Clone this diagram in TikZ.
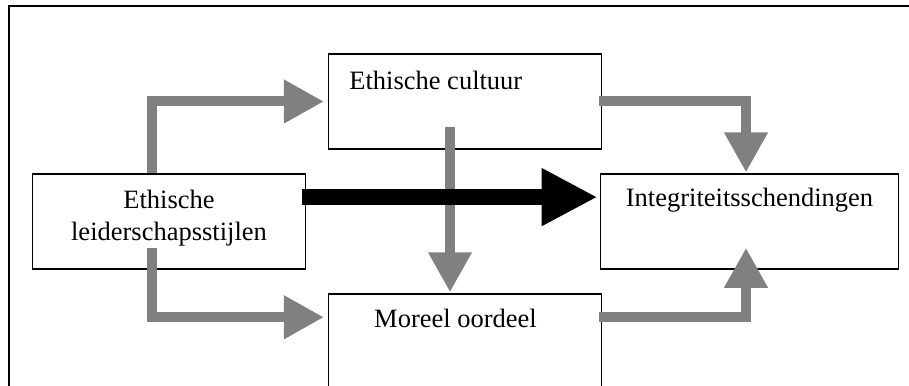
\documentclass[tikz,border=0pt]{standalone}
\usepackage{fontspec}
\setmainfont{Liberation Serif}
\usepackage{tikz}
\usepackage{xcolor}
\usetikzlibrary{arrows.meta, calc}
\tikzset{
    >={Triangle[length=20pt, width=20.5pt]} % Default arrow tip
}
\tikzstyle{box}=[
    draw,
    rectangle,
    line width = 0.75pt,
    inner sep = 0cm
]
\tikzstyle{boxtext}=[
    inner sep = 0cm,
    font = \fontsize{13.25}{15.85}\selectfont
]
\tikzstyle{link}=[
    gray,
    line width = 5pt,
    line join = miter,
    ->
]

\begin{document}
\begin{tikzpicture}[x=0.5pt, y=-0.5pt]
    \clip (0, 0) rectangle (909, 385);
    \draw [line width=1pt] (9, 6) rectangle (940, 420);

    \draw node [box, minimum width=136.7pt, minimum height=47.4pt] (lead) at (169, 221.6) {};
    \draw node [box, minimum width=136.3pt, minimum height=47.5pt] (cult) at (465, 101.5) {};
    \draw node [box, minimum width=148.8pt, minimum height=47.4pt] (integ) at (749.5, 221.6) {};
    \draw node [box, minimum width=136.3pt, minimum height=70pt] (moral) at (465, 364) {};

    \draw node [boxtext, align=center] at ($(lead.center)+(0, -3.6)$) {Ethische\\leiderschapsstijlen};
    \draw node [boxtext, anchor=base west] at ($(cult.north west)+(21, 36)$) {Ethische cultuur};
    \draw node [boxtext, anchor=base] at ($(integ.north)+(0, 33.5)$) {Integriteitsschendingen};
    \draw node [boxtext, anchor=base] at ($(moral.north)+(-9.5, 34)$) {Moreel oordeel};

    \draw [link] ($(lead.north)+(-17, 0)$) |- ($(cult.west)+(-4, 0)$);
    \draw [link] ($(lead.south)+(-17, -22)$) |- ($(moral.north west)+(-4, 24)$);
    \draw [link] ($(cult.south)+(-15, -23)$) -- ($(moral.north)+(-15, -1)$);
    \draw [link] ($(cult.east)+(-3, 0)$) -| ($(integ.north)+(-3.5, -1)$);
    \draw [link] ($(moral.north east)+(-3, 24)$) -| ($(integ.south)+(-3.5, -22)$);
    \draw [black, line width=8pt, -{Triangle[length=28pt, width=27pt]}]
        ($(lead.east)+(-4, -24.5)$) -- ($(integ.west)+(-2.4, -24.5)$);
\end{tikzpicture}
\end{document}
